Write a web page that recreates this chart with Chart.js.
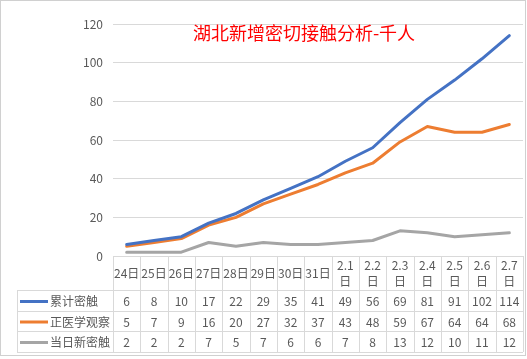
<!DOCTYPE html>
<html>
<head>
<meta charset="utf-8">
<script src="https://cdn.jsdelivr.net/npm/chart.js@4/dist/chart.umd.min.js"></script>
<style>
  body { margin: 0; background: #fff; }
  canvas { display: block; }
</style>
</head>
<body>
<canvas id="myChart" width="527" height="359"></canvas>
<script>
'use strict';

// categories (two-line labels for february)
const days = [['24日'], ['25日'], ['26日'], ['27日'], ['28日'], ['29日'], ['30日'], ['31日'],
  ['2.1', '日'], ['2.2', '日'], ['2.3', '日'], ['2.4', '日'], ['2.5', '日'], ['2.6', '日'], ['2.7', '日']];

const seriesNames = ['累计密触', '正医学观察', '当日新密触'];
const totalContact = [6, 8, 10, 17, 22, 29, 35, 41, 49, 56, 69, 81, 91, 102, 114];
const underObservation = [5, 7, 9, 16, 20, 27, 32, 37, 43, 48, 59, 67, 64, 64, 68];
const newContact = [2, 2, 2, 7, 5, 7, 6, 6, 7, 8, 13, 12, 10, 11, 12];
const yTicks = [0, 20, 40, 60, 80, 100, 120];

const titleText = '湖北新增密切接触分析-千人';
const fontFamily = "'Noto Sans CJK SC', 'Noto Sans', sans-serif";
const textColor = '#595959';
const lineGray = '#d9d9d9';

// draws title, data table under the plot and the outer frame
const tablePlugin = {
  id: 'dataTable',
  afterDraw(chart) {
    const ctx = chart.ctx;
    const area = chart.chartArea;
    const xScale = chart.scales.x;
    const n = chart.data.labels.length;
    const colW = (area.right - area.left) / n;
    const rowLines = [290, 311, 331, 352];
    const legendLeft = 17;

    ctx.save();

    // frame
    ctx.strokeStyle = '#d0d0d0';
    ctx.lineWidth = 1;
    ctx.strokeRect(0.5, 0.5, 525, 355);

    // table grid
    ctx.strokeStyle = lineGray;
    ctx.beginPath();
    for (let i = 0; i <= n; i++) {
      const x = Math.round(area.left + i * colW) + 0.5;
      ctx.moveTo(x, area.bottom);
      ctx.lineTo(x, rowLines[3]);
    }
    rowLines.forEach(function (y) {
      ctx.moveTo(legendLeft, y + 0.5);
      ctx.lineTo(area.right, y + 0.5);
    });
    ctx.moveTo(legendLeft + 0.5, rowLines[0]);
    ctx.lineTo(legendLeft + 0.5, rowLines[3]);
    ctx.stroke();

    // header
    ctx.fillStyle = textColor;
    ctx.font = '12px ' + fontFamily;
    ctx.textAlign = 'center';
    ctx.textBaseline = 'middle';
    chart.data.labels.forEach(function (lab, i) {
      const x = xScale.getPixelForValue(i);
      if (lab.length === 1) {
        ctx.fillText(lab[0], x, 273);
      } else {
        ctx.fillText(lab[0], x, 265);
        ctx.fillText(lab[1], x, 281);
      }
    });

    // series rows
    chart.data.datasets.forEach(function (ds, r) {
      const yc = (rowLines[r] + rowLines[r + 1]) / 2 + 1;
      ctx.strokeStyle = ds.borderColor;
      ctx.lineWidth = 3;
      ctx.beginPath();
      ctx.moveTo(20, yc);
      ctx.lineTo(48, yc);
      ctx.stroke();
      ctx.fillStyle = textColor;
      ctx.textAlign = 'left';
      ctx.fillText(ds.label, 50, yc);
      ctx.textAlign = 'center';
      ds.data.forEach(function (v, i) {
        ctx.fillText(String(v), xScale.getPixelForValue(i), yc);
      });
    });

    // title
    ctx.fillStyle = '#ff0000';
    ctx.font = '18px ' + fontFamily;
    ctx.textAlign = 'center';
    ctx.fillText(titleText, 304, 33);

    ctx.restore();
  }
};

const ctx = document.getElementById('myChart').getContext('2d');
const myChart = new Chart(ctx, {
  type: 'line',
  data: {
    labels: days,
    datasets: [{
      label: seriesNames[0],
      data: totalContact,
      borderColor: '#4472c4',
      borderWidth: 3
    }, {
      label: seriesNames[1],
      data: underObservation,
      borderColor: '#ed7d31',
      borderWidth: 3
    }, {
      label: seriesNames[2],
      data: newContact,
      borderColor: '#a5a5a5',
      borderWidth: 3
    }]
  },
  options: {
    responsive: false,
    animation: false,
    layout: {
      padding: { top: 24, right: 4, bottom: 103, left: 0 }
    },
    elements: {
      point: { radius: 0 },
      line: { tension: 0, borderCapStyle: 'round', borderJoinStyle: 'round' }
    },
    plugins: {
      legend: { display: false },
      title: { display: false },
      tooltip: { enabled: false }
    },
    scales: {
      x: {
        display: false,
        offset: true
      },
      y: {
        min: 0,
        max: 120,
        afterBuildTicks: function (scale) {
          scale.ticks = yTicks.map(function (v) { return { value: v }; });
        },
        afterFit: function (scale) {
          scale.width = 113;
        },
        border: { display: false },
        grid: { color: lineGray, drawTicks: false },
        ticks: {
          padding: 10,
          color: textColor,
          font: { size: 12, family: fontFamily }
        }
      }
    }
  },
  plugins: [tablePlugin]
});
</script>
</body>
</html>
